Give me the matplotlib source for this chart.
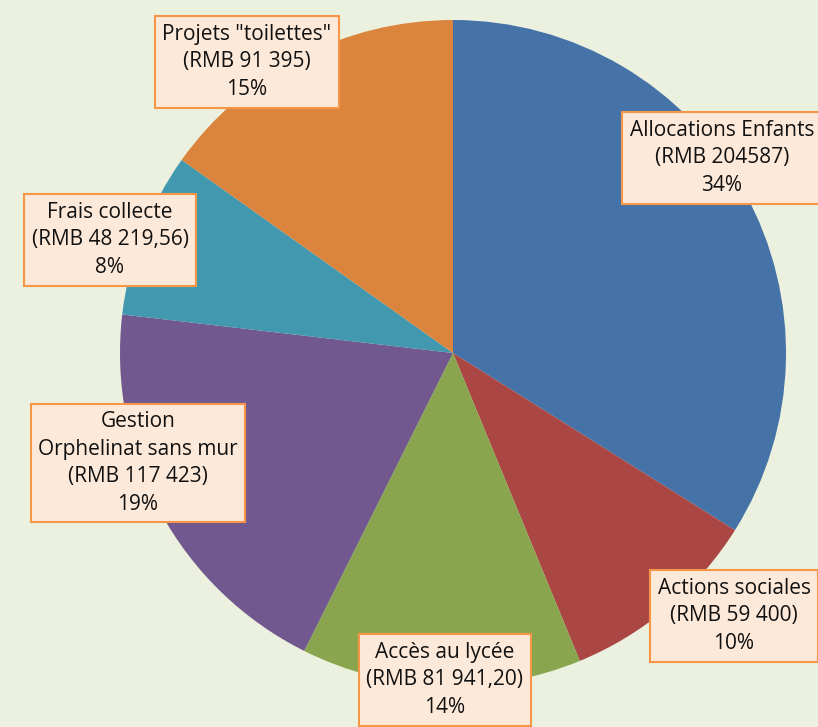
import matplotlib
matplotlib.use("Agg")
import matplotlib.pyplot as plt

categories = ["Allocations Enfants", "Actions sociales", "Accès au lycée",
              "Gestion\nOrphelinat sans mur", "Frais collecte", 'Projets "toilettes"']
amount_labels = ["RMB 204587", "RMB 59 400", "RMB 81 941,20", "RMB 117 423",
                 "RMB 48 219,56", "RMB 91 395"]
values = [204587, 59400, 81941.20, 117423, 48219.56, 91395]
colors = ["#4572A7", "#AA4643", "#89A54E", "#71588F", "#4198AF", "#DB843D"]
# label centres in pixel coordinates (x, y from top)
label_pos = [(722, 158), (734, 616), (445, 680), (138, 463), (110, 240), (247, 62)]

W, H = 818, 727
fig = plt.figure(figsize=(W / 100, H / 100), dpi=100)
fig.patch.set_facecolor("#EBF1DE")
ax = fig.add_axes([0, 0, 1, 1])

cx, cy, r = 453, H - 353, 333
ax.pie(values, colors=colors, startangle=90, counterclock=False,
       center=(cx, cy), radius=r, frame=True,
       wedgeprops=dict(linewidth=0))
ax.set_xlim(0, W)
ax.set_ylim(0, H)
ax.set_aspect("equal")
ax.axis("off")

total = sum(values)
for cat, amt, v, (px, py) in zip(categories, amount_labels, values, label_pos):
    pct = round(v / total * 100)
    txt = f"{cat}\n({amt})\n{pct}%"
    ax.text(px, H - py, txt, ha="center", va="center", fontsize=15,
            family="Open Sans", linespacing=1.42, color="#111111",
            bbox=dict(boxstyle="square,pad=0.35", facecolor="#FDE9D9",
                      edgecolor="#F79646", linewidth=1.5))

fig.savefig("out.png", dpi=100, facecolor=fig.get_facecolor())
